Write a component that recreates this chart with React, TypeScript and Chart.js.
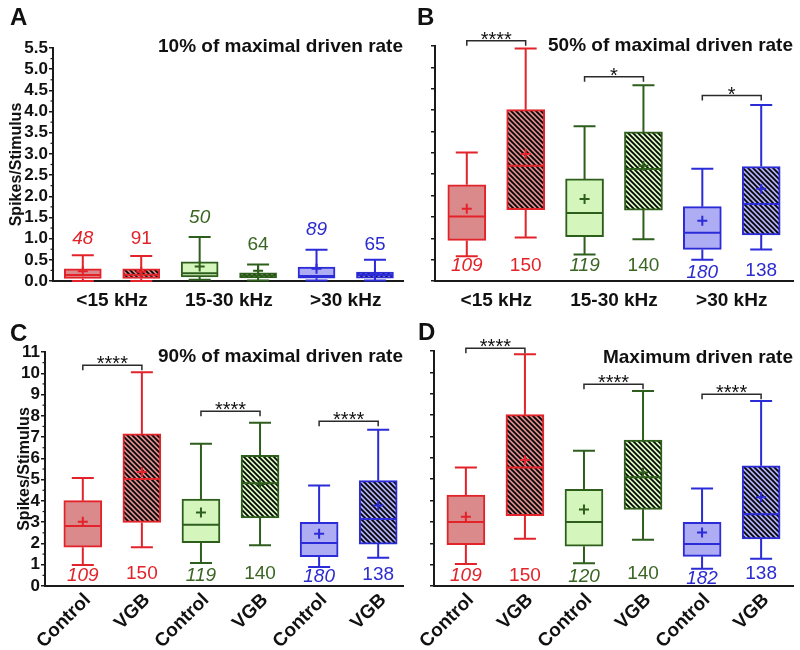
import { useEffect, useRef } from 'react';
import { Chart, registerables } from 'chart.js';

Chart.register(...registerables);

const FONT = "'Liberation Sans', Arial, Helvetica, sans-serif";
const AXIS = '#1a1a1a';

// ---------- shared categories ----------
const groupLabels = ['<15 kHz', '15-30 kHz', '>30 kHz'];
const treatmentLabels = ['Control', 'VGB', 'Control', 'VGB', 'Control', 'VGB'];
const boxGroup = [0, 0, 1, 1, 2, 2];
const boxHatched = [false, true, false, true, false, true];
const bracketFrom = [0, 2, 4];
const bracketTo = [1, 3, 5];

const strokeColors = ['#E2232A', '#2E5E1C', '#2B2BD8'];
const fillColors = ['#DA8A8B', '#D4F6BC', '#AEADF4'];
const countColors = ['#E2232A', '#3A6522', '#2B2BD0'];

// ---------- Panel A: 10% of maximal driven rate ----------
const aLow = [0.0, 0.0, 0.03, 0.01, 0.01, 0.01];
const aQ1 = [0.06, 0.06, 0.095, 0.07, 0.065, 0.065];
const aMedian = [0.14, 0.15, 0.18, 0.13, 0.12, 0.14];
const aQ3 = [0.29, 0.29, 0.45, 0.19, 0.33, 0.21];
const aHigh = [0.61, 0.59, 1.04, 0.39, 0.74, 0.5];
const aMean = [0.23, 0.22, 0.34, 0.24, 0.29, 0.16];
const aN = ['48', '91', '50', '64', '89', '65'];
const aNY = [1.0, 1.0, 1.5, 0.86, 1.2, 0.86];

// ---------- Panel B: 50% of maximal driven rate ----------
const bLow = [0.58, 1.02, 0.62, 0.98, 0.5, 0.74];
const bQ1 = [0.95, 1.67, 1.04, 1.66, 0.74, 1.08];
const bMedian = [1.51, 2.7, 1.59, 2.62, 1.13, 1.8];
const bQ3 = [2.25, 4.01, 2.39, 3.49, 1.74, 2.68];
const bHigh = [3.01, 5.44, 3.62, 4.58, 2.63, 4.12];
const bMean = [1.69, 2.97, 1.92, 2.7, 1.41, 2.16];
const bN = ['109', '150', '119', '140', '180', '138'];
const bNY = [0.35, 0.35, 0.35, 0.35, 0.19, 0.23];
const bBracketY = [5.62, 4.78, 4.34];
const bStars = ['****', '*', '*'];

// ---------- Panel C: 90% of maximal driven rate ----------
const cLow = [0.99, 1.82, 1.08, 1.91, 0.89, 1.33];
const cQ1 = [1.82, 2.99, 2.04, 3.2, 1.38, 1.97];
const cMedian = [2.82, 5.03, 2.88, 4.83, 2.02, 3.15];
const cQ3 = [4.01, 7.15, 4.09, 6.14, 2.99, 4.95];
const cHigh = [5.08, 10.05, 6.69, 7.68, 4.73, 7.35];
const cMean = [3.02, 5.36, 3.45, 4.8, 2.46, 3.78];
const cN = ['109', '150', '119', '140', '180', '138'];
const cNY = [0.5, 0.58, 0.5, 0.58, 0.42, 0.53];
const cBracketY = [10.38, 8.21, 7.74];
const cStars = ['****', '****', '****'];

// ---------- Panel D: Maximum driven rate ----------
const dLow = [1.03, 2.21, 1.06, 2.16, 0.81, 1.28];
const dQ1 = [1.94, 3.29, 1.86, 3.59, 1.39, 2.2];
const dMedian = [3.0, 5.55, 3.0, 5.09, 1.97, 3.36];
const dQ3 = [4.25, 8.02, 4.53, 6.83, 2.98, 5.63];
const dHigh = [5.55, 10.85, 6.33, 9.13, 4.56, 8.66];
const dMean = [3.24, 5.9, 3.58, 5.31, 2.5, 4.16];
const dN = ['109', '150', '120', '140', '182', '138'];
const dNY = [0.5, 0.5, 0.42, 0.58, 0.34, 0.58];
const dBracketY = [11.13, 9.44, 8.98];
const dStars = ['****', '****', '****'];

const panels = [
  {
    key: 'A', letter: 'A', title: '10% of maximal driven rate',
    left: 0, top: 0, w: 410, h: 325, padTop: 48, padRight: 7, yWidth: 53, xHeight: 44,
    xMin: -0.51, xMax: 5.48, yMax: 5.5, yStep: 0.5, yDecimals: 1, showYLabels: true,
    minor: [0.25, 0.75, 1.25, 1.75, 2.25, 2.75, 3.25, 3.75, 4.25, 4.75, 5.25],
    yTitle: true, yTitlePad: 7,
    xTicks: [0.5, 2.5, 4.5], xLabels: groupLabels, rot: 0, xPad: 8, labelOffset: 0,
    titleY: 47, letterX: 10, letterY: 25, boxWidth: 37,
    low: aLow, q1: aQ1, median: aMedian, q3: aQ3, high: aHigh, mean: aMean, n: aN, nY: aNY,
    bracketY: [], stars: [],
  },
  {
    key: 'B', letter: 'B', title: '50% of maximal driven rate',
    left: 410, top: 0, w: 390, h: 325, padTop: 46, padRight: 7, yWidth: 25, xHeight: 44,
    xMin: -0.54, xMax: 5.54, yMax: 5.5, yStep: 0.5, yDecimals: 1, showYLabels: false,
    minor: [], yTitle: false, yTitlePad: 0,
    xTicks: [0.5, 2.5, 4.5], xLabels: groupLabels, rot: 0, xPad: 8, labelOffset: 0,
    titleY: 46, letterX: 7, letterY: 25, boxWidth: 38,
    low: bLow, q1: bQ1, median: bMedian, q3: bQ3, high: bHigh, mean: bMean, n: bN, nY: bNY,
    bracketY: bBracketY, stars: bStars,
  },
  {
    key: 'C', letter: 'C', title: '90% of maximal driven rate',
    left: 0, top: 318, w: 410, h: 332, padTop: 34, padRight: 7, yWidth: 45, xHeight: 64,
    xMin: -0.64, xMax: 5.42, yMax: 11, yStep: 1, yDecimals: 0, showYLabels: true,
    minor: [0.5, 1.5, 2.5, 3.5, 4.5, 5.5, 6.5, 7.5, 8.5, 9.5, 10.5],
    yTitle: true, yTitlePad: 15,
    xTicks: [0, 1, 2, 3, 4, 5], xLabels: treatmentLabels, rot: 45, xPad: 3, labelOffset: 5,
    titleY: 39, letterX: 10, letterY: 23, boxWidth: 38,
    low: cLow, q1: cQ1, median: cMedian, q3: cQ3, high: cHigh, mean: cMean, n: cN, nY: cNY,
    bracketY: cBracketY, stars: cStars,
  },
  {
    key: 'D', letter: 'D', title: 'Maximum driven rate',
    left: 410, top: 318, w: 390, h: 332, padTop: 33, padRight: 7, yWidth: 24, xHeight: 64,
    xMin: -0.54, xMax: 5.54, yMax: 11, yStep: 1, yDecimals: 0, showYLabels: false,
    minor: [], yTitle: false, yTitlePad: 0,
    xTicks: [0, 1, 2, 3, 4, 5], xLabels: treatmentLabels, rot: 45, xPad: 3, labelOffset: 5,
    titleY: 40, letterX: 8, letterY: 22, boxWidth: 38,
    low: dLow, q1: dQ1, median: dMedian, q3: dQ3, high: dHigh, mean: dMean, n: dN, nY: dNY,
    bracketY: dBracketY, stars: dStars,
  },
];

function makeHatch(base: string, ctx: CanvasRenderingContext2D) {
  const s = 5;
  const c = document.createElement('canvas');
  c.width = s;
  c.height = s;
  const g = c.getContext('2d') as CanvasRenderingContext2D;
  g.fillStyle = base;
  g.fillRect(0, 0, s, s);
  g.strokeStyle = '#000';
  g.lineWidth = 1.7;
  g.beginPath();
  g.moveTo(0, 0);
  g.lineTo(s, s);
  g.moveTo(-1, s - 1);
  g.lineTo(1, s + 1);
  g.moveTo(s - 1, -1);
  g.lineTo(s + 1, 1);
  g.stroke();
  return ctx.createPattern(c, 'repeat');
}

function extrasPlugin(p: any) {
  return {
    id: 'extras' + p.key,
    afterDatasetsDraw(chart: any) {
      const { ctx, chartArea } = chart;
      const x = chart.scales.x;
      const y = chart.scales.y;
      ctx.save();
      // minor ticks
      ctx.strokeStyle = AXIS;
      ctx.lineWidth = 1.2;
      p.minor.forEach((v: number) => {
        const py = y.getPixelForValue(v);
        ctx.beginPath();
        ctx.moveTo(chartArea.left - 2.5, py);
        ctx.lineTo(chartArea.left, py);
        ctx.stroke();
      });
      const half = p.boxWidth / 2;
      const cap = 11;
      p.q1.forEach((_: number, i: number) => {
        const col = strokeColors[boxGroup[i]];
        const cx = x.getPixelForValue(i);
        const yl = y.getPixelForValue(p.low[i]);
        const y1 = y.getPixelForValue(p.q1[i]);
        const y3 = y.getPixelForValue(p.q3[i]);
        const yh = y.getPixelForValue(p.high[i]);
        const ym = y.getPixelForValue(p.median[i]);
        const ymean = y.getPixelForValue(p.mean[i]);
        ctx.strokeStyle = col;
        ctx.lineWidth = 2;
        ctx.beginPath();
        ctx.moveTo(cx, y1);
        ctx.lineTo(cx, yl);
        ctx.moveTo(cx - cap, yl);
        ctx.lineTo(cx + cap, yl);
        ctx.moveTo(cx, y3);
        ctx.lineTo(cx, yh);
        ctx.moveTo(cx - cap, yh);
        ctx.lineTo(cx + cap, yh);
        ctx.moveTo(cx - half + 1, ym);
        ctx.lineTo(cx + half - 1, ym);
        ctx.stroke();
        ctx.beginPath();
        ctx.moveTo(cx - 5, ymean);
        ctx.lineTo(cx + 5, ymean);
        ctx.moveTo(cx, ymean - 5);
        ctx.lineTo(cx, ymean + 5);
        ctx.stroke();
        ctx.fillStyle = countColors[boxGroup[i]];
        ctx.font = (boxHatched[i] ? '' : 'italic ') + '19px ' + FONT;
        ctx.textAlign = 'center';
        ctx.textBaseline = 'middle';
        ctx.fillText(p.n[i], cx, y.getPixelForValue(p.nY[i]));
      });
      // significance brackets
      p.bracketY.forEach((bv: number, k: number) => {
        const x1 = x.getPixelForValue(bracketFrom[k]);
        const x2 = x.getPixelForValue(bracketTo[k]);
        const by = y.getPixelForValue(bv);
        ctx.strokeStyle = '#2a2a2a';
        ctx.lineWidth = 1.5;
        ctx.beginPath();
        ctx.moveTo(x1, by + 5);
        ctx.lineTo(x1, by);
        ctx.lineTo(x2, by);
        ctx.lineTo(x2, by + 5);
        ctx.stroke();
        ctx.fillStyle = '#111';
        ctx.font = '20px ' + FONT;
        ctx.textAlign = 'center';
        ctx.textBaseline = 'alphabetic';
        ctx.fillText(p.stars[k], (x1 + x2) / 2, by + 5);
      });
      ctx.restore();
    },
    afterDraw(chart: any) {
      const { ctx, chartArea } = chart;
      ctx.save();
      ctx.fillStyle = '#111';
      ctx.font = 'bold 19px ' + FONT;
      ctx.textAlign = 'right';
      ctx.textBaseline = 'middle';
      ctx.fillText(p.title, chartArea.right, p.titleY);
      ctx.font = 'bold 24px ' + FONT;
      ctx.textAlign = 'left';
      ctx.textBaseline = 'alphabetic';
      ctx.fillText(p.letter, p.letterX, p.letterY);
      ctx.restore();
    },
  };
}

function makeConfig(p: any, ctx2d: CanvasRenderingContext2D): any {
  const bg = p.q1.map((_: number, i: number) =>
    boxHatched[i] ? makeHatch(fillColors[boxGroup[i]], ctx2d) : fillColors[boxGroup[i]]
  );
  return {
    type: 'bar',
    data: {
      datasets: [
        {
          data: p.q1.map((v: number, i: number) => ({ x: i, y: [v, p.q3[i]] })),
          backgroundColor: bg,
          borderColor: p.q1.map((_: number, i: number) => strokeColors[boxGroup[i]]),
          borderWidth: 2,
          borderSkipped: false,
          barThickness: p.boxWidth,
        },
      ],
    },
    options: {
      responsive: false,
      animation: false,
      events: [],
      layout: { padding: { top: p.padTop, right: p.padRight, bottom: 0, left: 0 } },
      plugins: { legend: { display: false }, tooltip: { enabled: false }, title: { display: false } },
      scales: {
        x: {
          type: 'linear',
          min: p.xMin,
          max: p.xMax,
          offset: false,
          grid: { display: false, drawTicks: false, offset: false },
          border: { display: true, color: AXIS, width: 2 },
          afterBuildTicks: (s: any) => {
            s.ticks = p.xTicks.map((v: number) => ({ value: v }));
          },
          afterFit: (s: any) => {
            s.height = p.xHeight;
            s.paddingLeft = 0;
            s.paddingRight = 0;
          },
          ticks: {
            autoSkip: false,
            minRotation: p.rot,
            maxRotation: p.rot,
            padding: p.xPad,
            labelOffset: p.labelOffset,
            color: '#111',
            font: { family: FONT, size: 19, weight: 'bold' },
            callback: (_v: number, i: number) => p.xLabels[i],
          },
        },
        y: {
          type: 'linear',
          min: 0,
          max: p.yMax,
          grid: { display: true, drawOnChartArea: false, drawTicks: true, tickLength: 4, color: AXIS, lineWidth: 1.5 },
          border: { display: true, color: AXIS, width: 2 },
          ticks: {
            stepSize: p.yStep,
            autoSkip: false,
            padding: 1,
            color: '#111',
            font: { family: FONT, size: 17, weight: 'bold' },
            callback: (v: number) => (p.showYLabels ? Number(v).toFixed(p.yDecimals) : ''),
          },
          title: {
            display: p.yTitle,
            text: 'Spikes/Stimulus',
            color: '#111',
            font: { family: FONT, size: 16, weight: 'bold' },
            padding: { top: p.yTitlePad, bottom: 0 },
          },
          afterFit: (s: any) => {
            s.width = p.yWidth;
            s.paddingTop = 0;
            s.paddingBottom = 0;
          },
        },
      },
    },
    plugins: [extrasPlugin(p)],
  };
}

function Panel({ p }: { p: any }) {
  const ref = useRef<HTMLCanvasElement | null>(null);
  useEffect(() => {
    const canvas = ref.current as HTMLCanvasElement;
    const ctx2d = canvas.getContext('2d') as CanvasRenderingContext2D;
    const chart = new Chart(canvas, makeConfig(p, ctx2d));
    return () => chart.destroy();
  }, [p]);
  return (
    <canvas
      ref={ref}
      width={p.w}
      height={p.h}
      style={{ position: 'absolute', left: p.left, top: p.top, width: p.w, height: p.h }}
    />
  );
}

export default function App() {
  return (
    <div style={{ position: 'absolute', left: 0, top: 0, width: 800, height: 650, background: '#fff', overflow: 'hidden' }}>
      {panels.map((p) => (
        <Panel key={p.key} p={p} />
      ))}
    </div>
  );
}
